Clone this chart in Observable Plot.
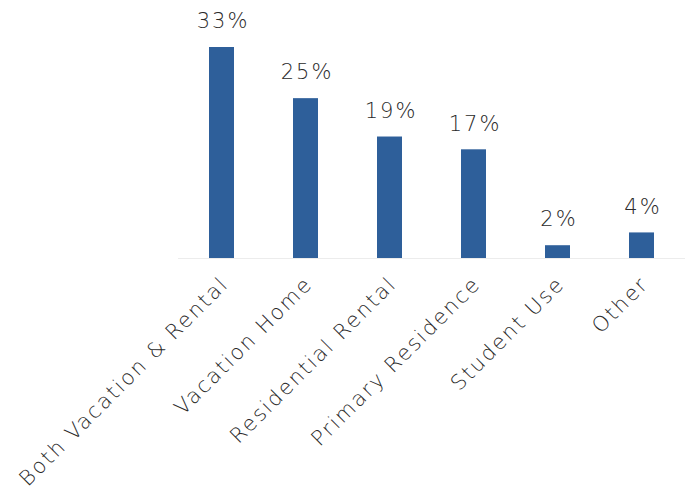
<!DOCTYPE html>
<html><head><meta charset="utf-8">
<script src="https://cdn.jsdelivr.net/npm/d3@7"></script>
<script src="https://cdn.jsdelivr.net/npm/@observablehq/plot@0.6"></script>
<style>body{margin:0;background:#fff;} svg{display:block;} svg text{letter-spacing:2px;}</style>
</head><body><div id="c"></div>
<script>
const categories = ["Both Vacation & Rental","Vacation Home","Residential Rental","Primary Residence","Student Use","Other"];
const values = [33, 25, 19, 17, 2, 4];
const data = categories.map((c,i)=>({category:c, value:values[i]}));
const font = "'DejaVu Sans', sans-serif";
const chart = Plot.plot({
  width: 688, height: 493,
  marginLeft: 178, marginRight: 3, marginTop: 47, marginBottom: 235,
  style: {fontFamily: font, background: "#fff"},
  x: {domain: categories, paddingInner: 0.704, paddingOuter: 0.352, axis: null},
  y: {domain: [0, 33], axis: null},
  marks: [
    Plot.ruleY([0], {stroke: "#ececec", strokeWidth: 1}),
    Plot.barY(data, {x: "category", y: "value", fill: "#2e5f9a"}),
    Plot.text(data, {x: "category", y: "value", text: d => d.value + "%", dx: 1, dy: -26, fontSize: 21, fill: "#2a2a2a", fontWeight: 300}),
    Plot.axisX({tickRotate: -45, tickSize: 0, tickPadding: 22, dx: 3, fontSize: 21, fill: "#2a2a2a", label: null, fontWeight: 300})
  ]
});
document.getElementById("c").appendChild(chart);
</script></body></html>
